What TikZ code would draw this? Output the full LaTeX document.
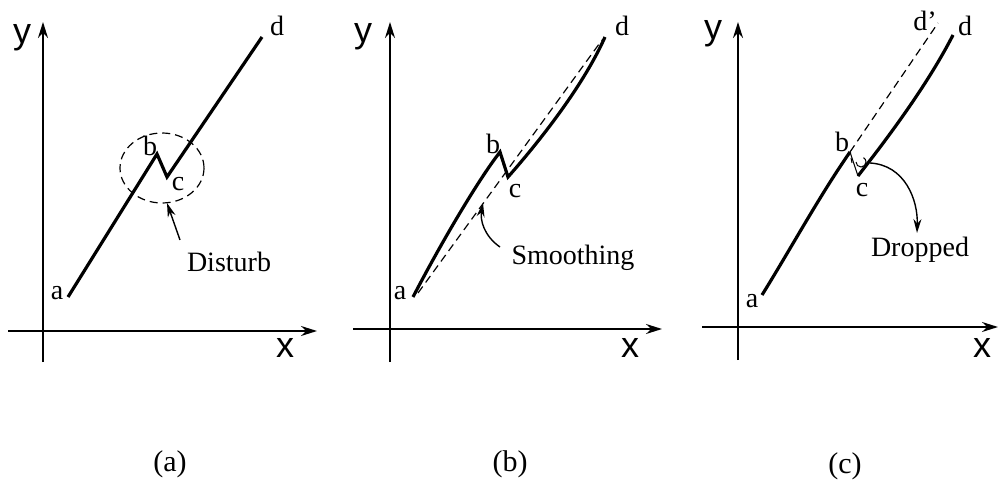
\documentclass[tikz,border=0pt]{standalone}
\usepackage{fontspec}
\setmainfont{Liberation Serif}
\newfontfamily\axisfont{Liberation Sans}
\usetikzlibrary{arrows.meta}
\begin{document}
\begin{tikzpicture}[x=0.5pt,y=-0.5pt,
  axis/.style={line width=1pt,-{Stealth[length=8pt,width=5pt]}},
  curve/.style={line width=1.6pt,line join=miter},
  thinline/.style={line width=0.5pt},
  guide/.style={line width=0.6pt,dash pattern=on 4pt off 2.5pt},
  pointer/.style={line width=0.7pt,-{Stealth[length=7pt,width=4pt]}},
  lbl/.style={font=\fontsize{14}{16}\selectfont, inner sep=0pt},
  axlbl/.style={font=\axisfont\fontsize{18}{20}\selectfont, inner sep=0pt},
  note/.style={font=\fontsize{14}{16}\selectfont, inner sep=0pt},
  captext/.style={font=\fontsize{15}{17}\selectfont, inner sep=0pt}]
\useasboundingbox (0,0) rectangle (1000,480);

% ---------------- panel (a)
\coordinate (ya0) at (43,362); \coordinate (ya1) at (43,22);
\coordinate (xa0) at (8,331);  \coordinate (xa1) at (317,331);
\draw[axis] (ya0) -- (ya1);
\draw[axis] (xa0) -- (xa1);
\node[axlbl] (ylab-a) at (22,38) {y};
\node[axlbl] (xlab-a) at (285,348) {x};
\coordinate (pa-a) at (68,297); \coordinate (pa-b) at (157,154);
\coordinate (pa-c) at (167,177); \coordinate (pa-d) at (262,37);
\draw[curve] (pa-a) -- (pa-b) -- (pa-c) -- (pa-d);
\draw[guide] (162,168) ellipse [x radius=42, y radius=35];
\node[lbl] (la-a) at (57,293) {a};
\node[lbl] (la-b) at (150,146) {b};
\node[lbl] (la-c) at (178,184) {c};
\node[lbl] (la-d) at (277,26) {d};
\node[note] (disturb) at (229,262) {Disturb};
\coordinate (da0) at (180,240); \coordinate (da1) at (167,203);
\draw[pointer] (da0) -- (da1);
\node[captext] (cap-a) at (170,464) {(a)};

% ---------------- panel (b)
\coordinate (yb0) at (390,362); \coordinate (yb1) at (390,22);
\coordinate (xb0) at (353,329); \coordinate (xb1) at (662,329);
\draw[axis] (yb0) -- (yb1);
\draw[axis] (xb0) -- (xb1);
\node[axlbl] (ylab-b) at (363,37) {y};
\node[axlbl] (xlab-b) at (630,348) {x};
\coordinate (pb-a) at (413,297); \coordinate (pb-b) at (500,152);
\coordinate (pb-c) at (508,177); \coordinate (pb-d) at (605,37);
\draw[curve] (pb-a) .. controls (440,245) and (478,180) .. (pb-b) -- (pb-c)
   .. controls (545,135) and (585,82) .. (pb-d);
\coordinate (sb0) at (418,293); \coordinate (sb1) at (602,40);
\draw[guide] (sb0) -- (sb1);
\node[lbl] (lb-a) at (400,293) {a};
\node[lbl] (lb-b) at (493,144) {b};
\node[lbl] (lb-c) at (515,191) {c};
\node[lbl] (lb-d) at (622,26) {d};
\node[note] (smooth) at (573,258) {Smoothing};
\coordinate (sm0) at (500,247); \coordinate (sm1) at (483,203);
\draw[pointer] (sm0) .. controls (484,236) and (480,220) .. (sm1);
\node[captext] (cap-b) at (510,464) {(b)};

% ---------------- panel (c)
\coordinate (yc0) at (738,360); \coordinate (yc1) at (738,22);
\coordinate (xc0) at (702,327); \coordinate (xc1) at (998,327);
\draw[axis] (yc0) -- (yc1);
\draw[axis] (xc0) -- (xc1);
\node[axlbl] (ylab-c) at (713,34) {y};
\node[axlbl] (xlab-c) at (982,348) {x};
\coordinate (pc-a) at (762,295); \coordinate (pc-b) at (850,152);
\coordinate (pc-c) at (858,176); \coordinate (pc-d) at (953,35);
\coordinate (pc-dd) at (938,23);
\draw[curve] (pc-a) .. controls (790,250) and (820,195) .. (pc-b);
\draw[thinline] (pc-b) -- (pc-c);
\draw[curve] (pc-c) -- (868,163) .. controls (895,128) and (930,80) .. (pc-d);
\draw[thinline] (856,162) arc[start angle=180, end angle=-60, radius=5];
\draw[thinline] (851,158) -- (852,163);
\draw[guide] (pc-b) -- (pc-dd);
\node[lbl] (lc-a) at (752,301) {a};
\node[lbl] (lc-b) at (842,142) {b};
\node[lbl] (lc-c) at (862,190) {c};
\node[lbl] (lc-d) at (965,26) {d};
\node[lbl] (lc-dd) at (925,21) {d'};
\node[note] (dropped) at (920,250) {Dropped};
\coordinate (dr0) at (870,163); \coordinate (dr1) at (917,233);
\draw[pointer] (dr0) .. controls (905,165) and (918,200) .. (dr1);
\node[captext] (cap-c) at (845,466) {(c)};
\end{tikzpicture}
\end{document}
